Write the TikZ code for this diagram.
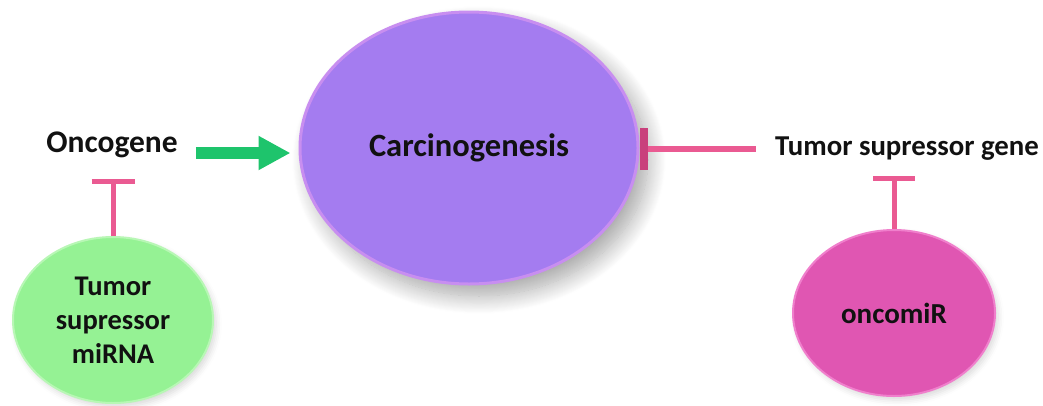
\documentclass[tikz,border=0pt]{standalone}
\usepackage{fontspec}
\setmainfont{Carlito}
\usetikzlibrary{shapes.geometric,arrows.meta,shadows.blur}
\definecolor{purp}{HTML}{A47CF0}
\definecolor{purprim}{HTML}{C88EF0}
\definecolor{grn}{HTML}{95F294}
\definecolor{grnrim}{HTML}{B8F7B5}
\definecolor{pnk}{HTML}{E056B2}
\definecolor{pnkrim}{HTML}{F07FCC}
\definecolor{arrgreen}{HTML}{1EC46C}
\definecolor{inhpink}{HTML}{EA5A92}
\definecolor{bardark}{HTML}{C9407C}
\definecolor{txt}{HTML}{111111}
\begin{document}
\begin{tikzpicture}[x=1pt,y=-1pt,
  lbl/.style={font=\bfseries\fontsize{31.5}{36}\selectfont, text=txt, inner sep=0pt},
  blob/.style={ellipse, inner sep=0pt, align=center, text=txt,
    font=\bfseries\fontsize{28.5}{34}\selectfont},
  inhib/.style={draw=inhpink, line width=5pt},
  greenarr/.style={draw=arrgreen, line width=12pt,
    -{Triangle[length=32pt 0 0, width=32pt 0 0]}}
]
\useasboundingbox (0,0) rectangle (1043,405);
% big ellipse
\node[blob, fill=purp, draw=purprim, line width=3pt,
  minimum width=338pt, minimum height=272pt,
  font=\bfseries\fontsize{32.5}{36}\selectfont,
  blur shadow={shadow xshift=10pt, shadow yshift=-12pt, shadow blur radius=18pt, shadow opacity=35, shadow blur steps=20}]
  (carc) at (469,148) {Carcinogenesis};
% small ellipses
\node[blob, fill=grn, draw=grnrim, line width=2pt,
  minimum width=200pt, minimum height=166pt,
  blur shadow={shadow xshift=3pt, shadow yshift=-4pt, shadow blur radius=6pt, shadow opacity=15}]
  (tsm) at (113,320) {Tumor\\supressor\\miRNA};
\node[blob, fill=pnk, draw=pnkrim, line width=2pt,
  minimum width=202pt, minimum height=166pt,
  font=\bfseries\fontsize{29}{34}\selectfont,
  blur shadow={shadow xshift=3pt, shadow yshift=-4pt, shadow blur radius=6pt, shadow opacity=15}]
  (omir) at (894,313) {oncomiR};
% labels
\node[lbl] (onc) at (112,145) {Oncogene};
\node[lbl, font=\bfseries\fontsize{28.8}{34}\selectfont] (tsg) at (907,149) {Tumor supressor gene};
% connectors
\draw[greenarr] ([xshift=18pt,yshift=-8pt]onc.east) -- ([xshift=-8pt,yshift=-5pt]carc.west);
\draw[draw=inhpink, line width=6pt, -{Bar[width=42pt 0 0, line width=8pt, color=bardark]}, shorten <=19pt]
  (tsg.west) -- (tsg.west -| carc.east);
\draw[inhib, -{Bar[width=43pt 0 0]}] (tsm.north) -- (tsm.north |- 0,179);
\draw[inhib, -{Bar[width=42pt 0 0]}] (omir.north) -- (omir.north |- 0,176);
\end{tikzpicture}
\end{document}
